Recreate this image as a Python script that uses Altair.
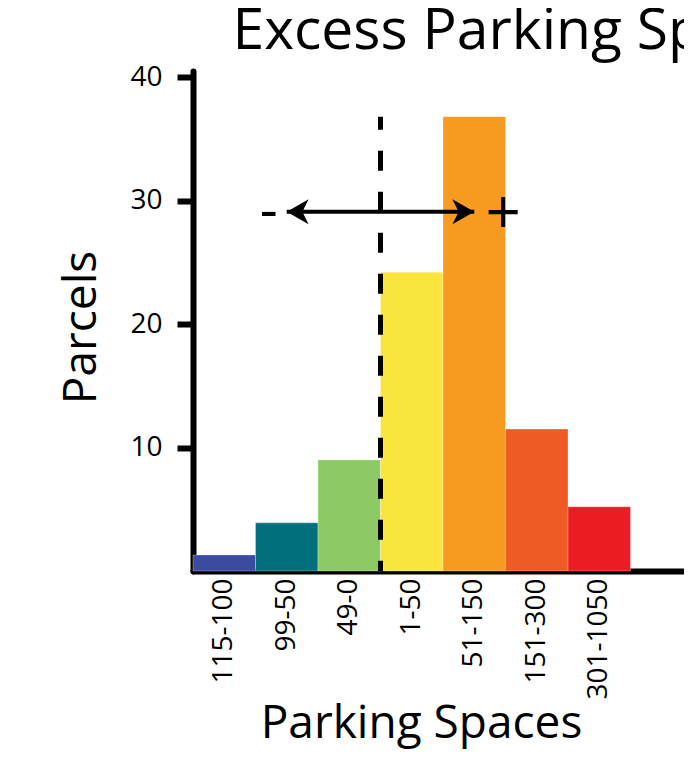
import altair as alt
import pandas as pd

# ---- data ----
categories = ["115-100", "99-50", "49-0", "1-50", "51-150", "151-300", "301-1050"]
parcels = [1.3, 3.9, 9.0, 24.2, 36.8, 11.5, 5.2]
colors = ["#3a4ba1", "#00717c", "#8dc965", "#fae53f", "#f69b20", "#f05b25", "#ec1c24"]
y_ticks = [10, 20, 30, 40]

title_text = "Excess Parking Spaces"
x_title = "Parking Spaces"
y_title = "Parcels"

# annotation: dashed divider between negative and positive ranges, double arrow
divider_category = ["1-50"]
divider_top = [36.8]
arrow_categories = ["99-50", "51-150"]
arrow_level = [29.1, 29.1]
signs = ["-", "+"]

FONT = "Open Sans"

bars_df = pd.DataFrame({"range": categories, "parcels": parcels, "color": colors})
divider_df = pd.DataFrame({"range": divider_category, "parcels": divider_top, "base": [0]})
left_head = "M0,0L1.75,-1L1.25,0L1.75,1Z"
right_head = "M0,0L-1.75,-1L-1.25,0L-1.75,1Z"
arrow_df = pd.DataFrame({"range": arrow_categories, "parcels": arrow_level,
                         "head": [left_head, right_head]})
minus_df = pd.DataFrame({"range": [arrow_categories[0]], "parcels": [arrow_level[0]], "sign": [signs[0]]})
plus_df = pd.DataFrame({"range": [arrow_categories[1]], "parcels": [arrow_level[1]], "sign": [signs[1]]})

x_scale = alt.Scale(domain=categories, paddingInner=0, paddingOuter=0.428, align=0)
y_scale = alt.Scale(domain=[0, 40.5], nice=False)

x_axis = alt.Axis(
    title=x_title, ticks=False, tickSize=0, labelAngle=270, labelAlign="right",
    labelBaseline="middle", labelPadding=7, labelFontSize=28, labelFont=FONT,
    labelColor="black", domainColor="black", domainWidth=6, domainCap="round",
    titleFont=FONT, titleFontSize=46, titleFontWeight="normal", titleColor="black",
    titleX=228, titleY=166, titleAlign="center", titleBaseline="alphabetic",
)
y_axis = alt.Axis(
    title=y_title, values=y_ticks, tickSize=16, tickWidth=6, tickColor="black",
    labelPadding=15, labelFontSize=28, labelFont=FONT, labelColor="black",
    domainColor="black", domainWidth=6, domainCap="round",
    titleFont=FONT, titleFontSize=46, titleFontWeight="normal", titleColor="black",
    titleX=-98, titleY=256, titleAngle=270, titleAlign="center", titleBaseline="alphabetic",
)

bars = alt.Chart(bars_df).mark_bar(stroke="white", strokeWidth=0.5, strokeOpacity=0.6).encode(
    x=alt.X("range:N", sort=categories, scale=x_scale, axis=x_axis),
    y=alt.Y("parcels:Q", scale=y_scale, axis=y_axis),
    color=alt.Color("color:N", scale=None),
)

divider = alt.Chart(divider_df).mark_rule(
    color="black", strokeWidth=5, strokeDash=[20, 21], strokeDashOffset=7
).encode(
    x=alt.X("range:N", bandPosition=0),
    y="parcels:Q",
    y2="base:Q",
)

arrow_line = alt.Chart(arrow_df).mark_line(color="black", strokeWidth=4).encode(
    x="range:N", y="parcels:Q"
)
arrow_heads = alt.Chart(arrow_df).mark_point(filled=True, size=625, color="black", opacity=1).encode(
    x="range:N", y="parcels:Q", shape=alt.Shape("head:N", scale=None)
)

minus = alt.Chart(minus_df).mark_text(
    font=FONT, fontSize=56, color="black", dx=-18, baseline="middle", dy=0
).encode(x="range:N", y="parcels:Q", text="sign:N")
plus = alt.Chart(plus_df).mark_text(
    font=FONT, fontSize=62, color="black", dx=29, baseline="middle", dy=3
).encode(x="range:N", y="parcels:Q", text="sign:N")

chart = alt.layer(bars, divider, arrow_line, arrow_heads, minus, plus).properties(
    width=491,
    height=500,
    title=alt.TitleParams(
        text=title_text, anchor="start", frame="group", dx=39.5, dy=56, offset=13,
        baseline="alphabetic", fontSize=57, font=FONT, fontWeight="normal", color="black",
    ),
    autosize=alt.AutoSizeParams(type="none"),
    padding={"left": 185, "top": 63, "right": 0, "bottom": 179},
).configure_view(stroke=None).configure_axis(grid=False)

chart.save("out.html", embed_options={"renderer": "svg", "actions": False})
